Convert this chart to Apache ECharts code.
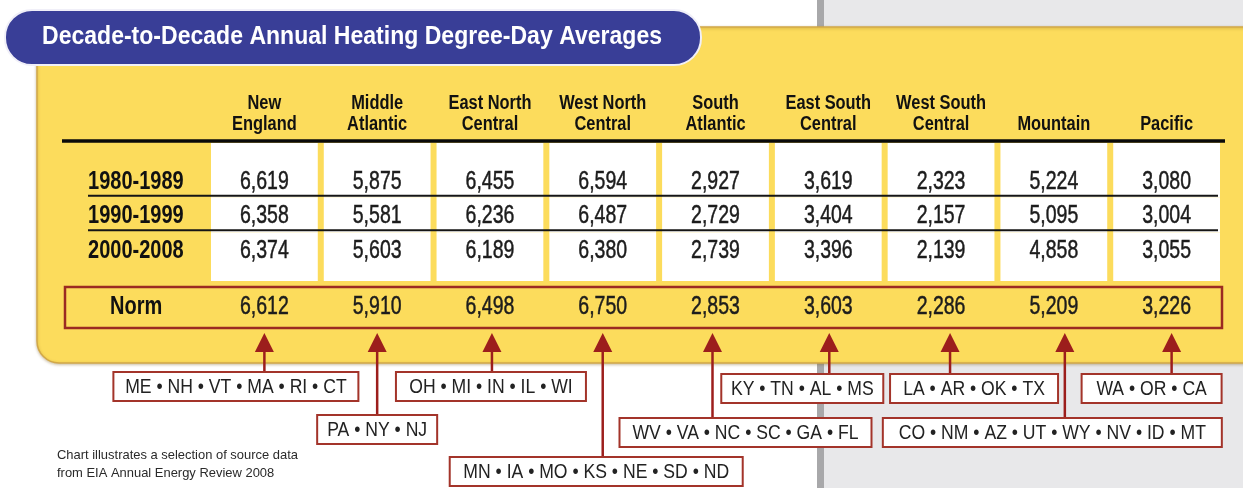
<!DOCTYPE html>
<html>
<head>
<meta charset="utf-8">
<script src="https://cdn.jsdelivr.net/npm/echarts@6/dist/echarts.min.js"></script>
<style>html,body{margin:0;padding:0;background:#fff;}#c{width:1243px;height:488px;}</style>
</head>
<body>
<div id="c"></div>
<script>
// ---- data ----
const title = 'Decade-to-Decade Annual Heating Degree-Day Averages';
const regions = ['New England','Middle Atlantic','East North Central','West North Central','South Atlantic','East South Central','West South Central','Mountain','Pacific'];
const decades = ['1980-1989','1990-1999','2000-2008'];
const v1980 = [6619,5875,6455,6594,2927,3619,2323,5224,3080];
const v1990 = [6358,5581,6236,6487,2729,3404,2157,5095,3004];
const v2000 = [6374,5603,6189,6380,2739,3396,2139,4858,3055];
const normRow = ['Norm'];
const norm = [6612,5910,6498,6750,2853,3603,2286,5209,3226];
const states = ['ME \u2022 NH \u2022 VT \u2022 MA \u2022 RI \u2022 CT','PA \u2022 NY \u2022 NJ','OH \u2022 MI \u2022 IN \u2022 IL \u2022 WI','MN \u2022 IA \u2022 MO \u2022 KS \u2022 NE \u2022 SD \u2022 ND','WV \u2022 VA \u2022 NC \u2022 SC \u2022 GA \u2022 FL','KY \u2022 TN \u2022 AL \u2022 MS','LA \u2022 AR \u2022 OK \u2022 TX','CO \u2022 NM \u2022 AZ \u2022 UT \u2022 WY \u2022 NV \u2022 ID \u2022 MT','WA \u2022 OR \u2022 CA'];
const note = ['Chart illustrates a selection of source data','from EIA Annual Energy Review 2008'];

// ---- layout / style ----
const FONT = '"Liberation Sans",Arial,Helvetica,sans-serif';
const YELLOW = '#fcdc5c';
const RED = '#9c1e1c';
const BOXRED = '#a3342a';
const boxLayout = [
  {dx:-151,w:245,top:372},{dx:-60,w:120,top:415},{dx:-94,w:190,top:372},
  {dx:-153,w:293,top:457},{dx:-96,w:252,top:418},{dx:-107,w:162,top:374},
  {dx:-51,w:168,top:374},{dx:-171,w:339,top:418},{dx:-85,w:140,top:374}
];
const arrowDx = [0,0,2,0,-3,1,9,11,5];
const fmt = v => v.toLocaleString('en-US');
const headerFmt = s => { const w = s.split(' '); return w.length > 1 ? w.slice(0,-1).join(' ') + '\n' + w[w.length-1] : s; };
const mctx = document.createElement('canvas').getContext('2d');
function fitScale(text, font, width){ mctx.font = font; return width / mctx.measureText(text).width; }

const TITLE_FONT = 'bold 26px ' + FONT;
const NOTE_FONT = '13.5px ' + FONT;
const titleScale = fitScale(title, TITLE_FONT, 620);
const noteScale = fitScale(note[0], NOTE_FONT, 241);
const VAL_FONT = '26px ' + FONT, VAL_SX = 0.75;
const ROW_FONT = 'bold 26px ' + FONT, ROW_SX = 0.77;
const HEAD_FONT = 'bold 20px ' + FONT, HEAD_SX = 0.82;
const BOX_FONT = '20px ' + FONT, BOX_SX = 0.88;

const chart = echarts.init(document.getElementById('c'), null, {renderer:'canvas'});

function txt(x, y, text, font, sx, fill, align, va, extraStyle){
  return {type:'text', x:x, y:y, scaleX:sx, style:Object.assign({text:text, font:font, fill:fill, align:align, verticalAlign:va}, extraStyle||{})};
}

const valueData = [];
[v1980, v1990, v2000].forEach((arr,r)=>arr.forEach((v,c)=>valueData.push([c, r, v])));
const cellData = [];
decades.forEach((d,r)=>regions.forEach((g,c)=>cellData.push([c,r])));
const VAL_STROKE = {stroke:'#1c1c1c', lineWidth:0.5};

const option = {
  animation:false,
  backgroundColor:'#ffffff',
  graphic:[
    {type:'rect', shape:{x:823,y:0,width:420,height:488}, style:{fill:'#e8e8ea'}, z:-10},
    {type:'rect', shape:{x:817,y:0,width:7,height:488}, style:{fill:'#a8a8aa'}, z:-10},
    {type:'rect', shape:{x:37,y:27,width:1225,height:336,r:[0,0,0,22]}, style:{fill:YELLOW, stroke:'#d2a848', lineWidth:1.5, shadowColor:'rgba(120,90,20,0.35)', shadowBlur:3, shadowOffsetY:1}, z:-9},
    {type:'rect', shape:{x:5,y:10,width:696,height:55,r:27}, style:{fill:'#393e97', stroke:'#f0eff8', lineWidth:2}, z:-8},
    {type:'text', x:42, y:37, scaleX:titleScale, style:{text:title, fill:'#ffffff', font:TITLE_FONT, verticalAlign:'middle'}, z:-7},
    {type:'line', shape:{x1:62,y1:141,x2:1225,y2:141}, style:{stroke:'#0a0a0a', lineWidth:3.5}, z:-7},
    {type:'rect', shape:{x:65,y:287,width:1157,height:41}, style:{fill:null, stroke:'#9b2b22', lineWidth:2.5}, z:-7},
    {type:'text', x:57, y:455, scaleX:noteScale, style:{text:note[0], fill:'#2a2a2a', font:NOTE_FONT, verticalAlign:'middle'}, z:-7},
    {type:'text', x:57, y:473, scaleX:noteScale, style:{text:note[1], fill:'#2a2a2a', font:NOTE_FONT, verticalAlign:'middle'}, z:-7}
  ],
  grid:[
    {left:208, right:20, top:163, height:104},
    {left:208, right:20, top:288, height:40}
  ],
  xAxis:[
    {type:'category', gridIndex:0, data:regions, show:false},
    {type:'category', gridIndex:1, data:regions, show:false}
  ],
  yAxis:[
    {type:'category', gridIndex:0, data:decades, inverse:true, show:false},
    {type:'category', gridIndex:1, data:normRow, show:false}
  ],
  series:[
    // white cells
    {type:'custom', xAxisIndex:0, yAxisIndex:0, z:1, silent:true, data:cellData,
     renderItem:(params, api)=>{
       const c = api.value(0), r = api.value(1);
       const p = api.coord([c, r]); const s = api.size([1,1]);
       let top = p[1]-s[1]/2, bot = p[1]+s[1]/2;
       if (r === 0) top -= 20;
       if (r === decades.length-1) bot += 14;
       return {type:'rect', shape:{x:p[0]-s[0]/2+3, y:top, width:s[0]-6, height:bot-top}, style:{fill:'#ffffff'}};
     }},
    // row separators
    {type:'custom', xAxisIndex:0, yAxisIndex:0, z:3, silent:true, data:[[0,0],[0,1]],
     renderItem:(params, api)=>{
       const r = api.value(1);
       const p = api.coord([0, r]); const q = api.coord([regions.length-1, r]); const s = api.size([1,1]);
       const y = p[1]+s[1]/2-2;
       return {type:'line', shape:{x1:p[0]-s[0]/2-120, y1:y, x2:q[0]+s[0]/2-5, y2:y}, style:{stroke:'#151515', lineWidth:2}};
     }},
    // column headers
    {type:'custom', xAxisIndex:0, yAxisIndex:0, z:5, silent:true, data:regions.map((g,c)=>[c,0]),
     renderItem:(params, api)=>{
       const c = api.value(0);
       const p = api.coord([c, 0]); const s = api.size([1,1]);
       const y = p[1]-s[1]/2-28;
       return txt(p[0], y, headerFmt(regions[c]), HEAD_FONT, HEAD_SX, '#111', 'center', 'bottom', {lineHeight:21});
     }},
    // row labels
    {type:'custom', xAxisIndex:0, yAxisIndex:0, z:5, silent:true, data:decades.map((d,r)=>[0,r]),
     renderItem:(params, api)=>{
       const r = api.value(1);
       const p = api.coord([0, r]); const s = api.size([1,1]);
       return txt(p[0]-s[0]/2-120, p[1]+1, decades[r], ROW_FONT, ROW_SX, '#111', 'left', 'middle');
     }},
    // decade values
    {type:'custom', xAxisIndex:0, yAxisIndex:0, z:5, silent:true, data:valueData,
     renderItem:(params, api)=>{
       const p = api.coord([api.value(0), api.value(1)]);
       return txt(p[0], p[1]+1, fmt(api.value(2)), VAL_FONT, VAL_SX, '#1c1c1c', 'center', 'middle', VAL_STROKE);
     }},
    // norm label
    {type:'custom', xAxisIndex:1, yAxisIndex:1, z:5, silent:true, data:[[0,0]],
     renderItem:(params, api)=>{
       const p = api.coord([0, 0]); const s = api.size([1,1]);
       return txt(p[0]-s[0]/2-98, p[1]-1, normRow[0], ROW_FONT, ROW_SX, '#111', 'left', 'middle');
     }},
    // norm values
    {type:'custom', xAxisIndex:1, yAxisIndex:1, z:5, silent:true, data:norm.map((v,c)=>[c,0,v]),
     renderItem:(params, api)=>{
       const p = api.coord([api.value(0), api.value(1)]);
       return txt(p[0], p[1]-1, fmt(api.value(2)), VAL_FONT, VAL_SX, '#1c1c1c', 'center', 'middle', VAL_STROKE);
     }},
    // arrows and state boxes
    {type:'custom', xAxisIndex:1, yAxisIndex:1, z:4, silent:true, data:norm.map((v,i)=>[i,0]),
     renderItem:(params, api)=>{
       const c = api.value(0);
       const p = api.coord([c, 0]);
       const x = p[0] + arrowDx[c];
       const b = boxLayout[c];
       return {type:'group', children:[
         {type:'line', shape:{x1:x, y1:350, x2:x, y2:b.top}, style:{stroke:RED, lineWidth:2.5}},
         {type:'polygon', shape:{points:[[x,333],[x-9.5,352],[x+9.5,352]]}, style:{fill:RED}},
         {type:'rect', shape:{x:p[0]+b.dx, y:b.top, width:b.w, height:29}, style:{fill:'#ffffff', stroke:BOXRED, lineWidth:2}},
         txt(p[0]+b.dx+b.w/2, b.top+15, states[c], BOX_FONT, BOX_SX, '#222', 'center', 'middle')
       ]};
     }}
  ]
};
chart.setOption(option);
</script>
</body>
</html>
